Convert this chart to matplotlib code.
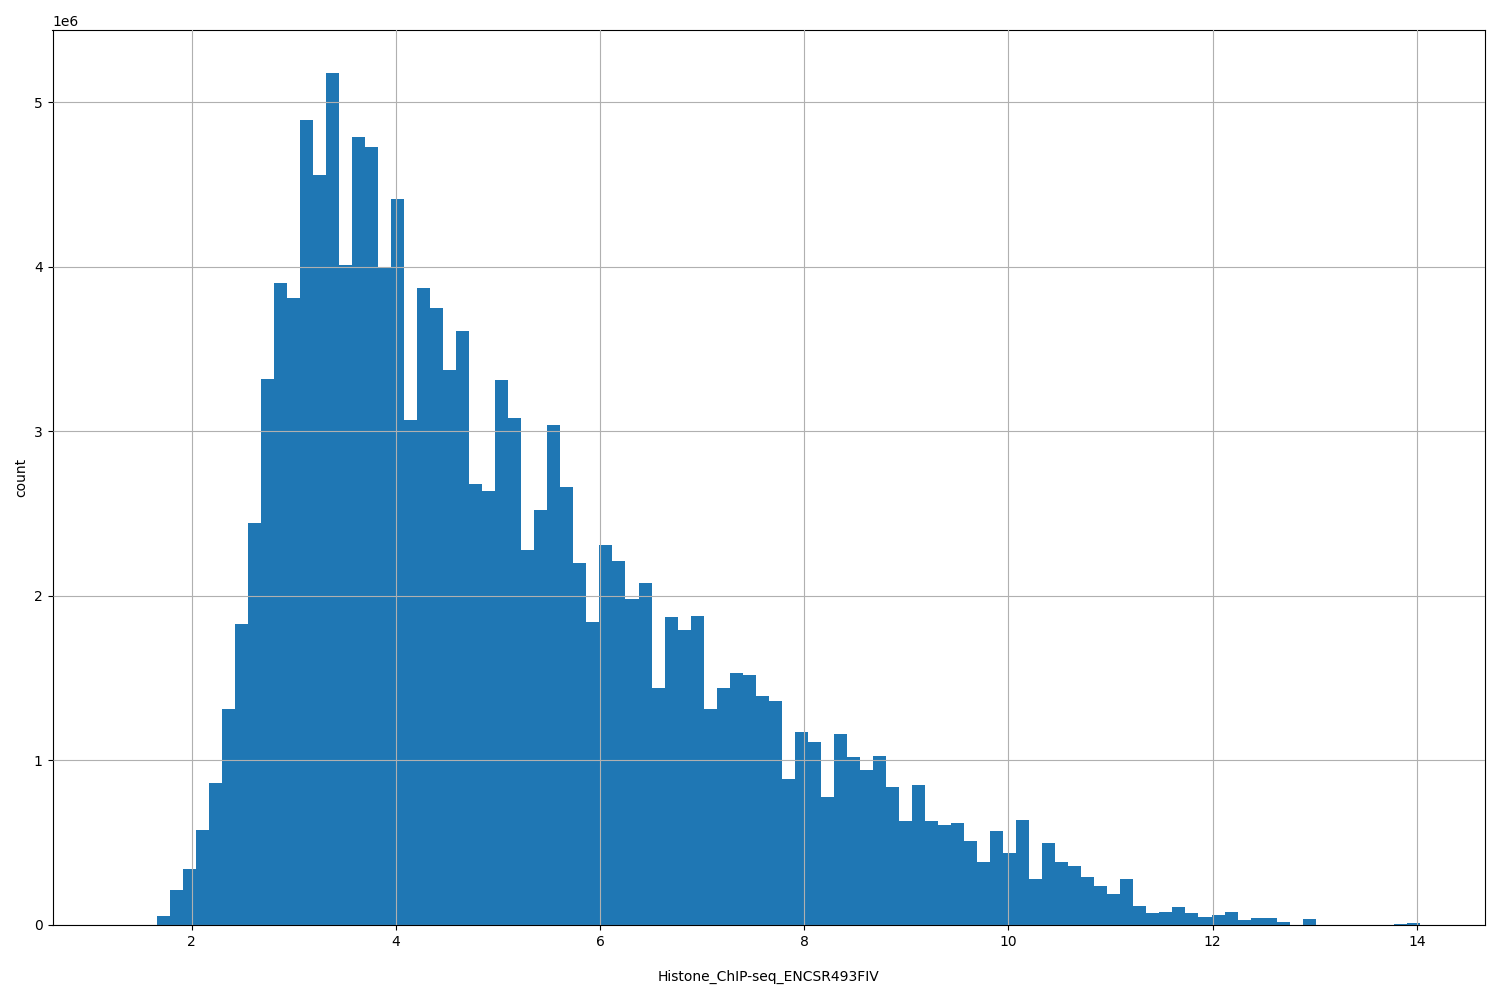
import numpy as np
import matplotlib
matplotlib.use("Agg")
import matplotlib.pyplot as plt

data_min = 1.276
data_max = 14.03
n_bins = 100
counts_m = [0, 0, 0, 0.055, 0.21, 0.34, 0.58, 0.86, 1.31, 1.83,
            2.44, 3.32, 3.90, 3.81, 4.89, 4.56, 5.18, 4.01, 4.79, 4.73,
            4.00, 4.41, 3.07, 3.87, 3.75, 3.37, 3.61, 2.68, 2.64, 3.31,
            3.08, 2.28, 2.52, 3.04, 2.66, 2.20, 1.84, 2.31, 2.21, 1.98,
            2.08, 1.44, 1.87, 1.79, 1.88, 1.31, 1.44, 1.53, 1.52, 1.39,
            1.36, 0.89, 1.17, 1.11, 0.78, 1.16, 1.02, 0.94, 1.03, 0.84,
            0.63, 0.85, 0.63, 0.61, 0.62, 0.51, 0.38, 0.57, 0.44, 0.64,
            0.28, 0.50, 0.38, 0.36, 0.29, 0.24, 0.19, 0.28, 0.115, 0.075,
            0.08, 0.11, 0.075, 0.05, 0.06, 0.08, 0.03, 0.045, 0.045, 0.02,
            0, 0.035, 0, 0, 0, 0, 0, 0, 0.005, 0.01]

edges = np.linspace(data_min, data_max, n_bins + 1)
centers = (edges[:-1] + edges[1:]) / 2
weights = np.array(counts_m) * 1e6

fig, ax = plt.subplots(figsize=(15, 10), dpi=100)
ax.hist(centers, bins=edges, weights=weights, color="#1f77b4")
ax.grid(True)
ax.set_axisbelow(False)
ax.set_xlabel("Histone_ChIP-seq_ENCSR493FIV", labelpad=15)
ax.set_ylabel("count")
fig.subplots_adjust(left=0.035, right=0.99, top=0.97, bottom=0.075)
fig.savefig("out.png")
